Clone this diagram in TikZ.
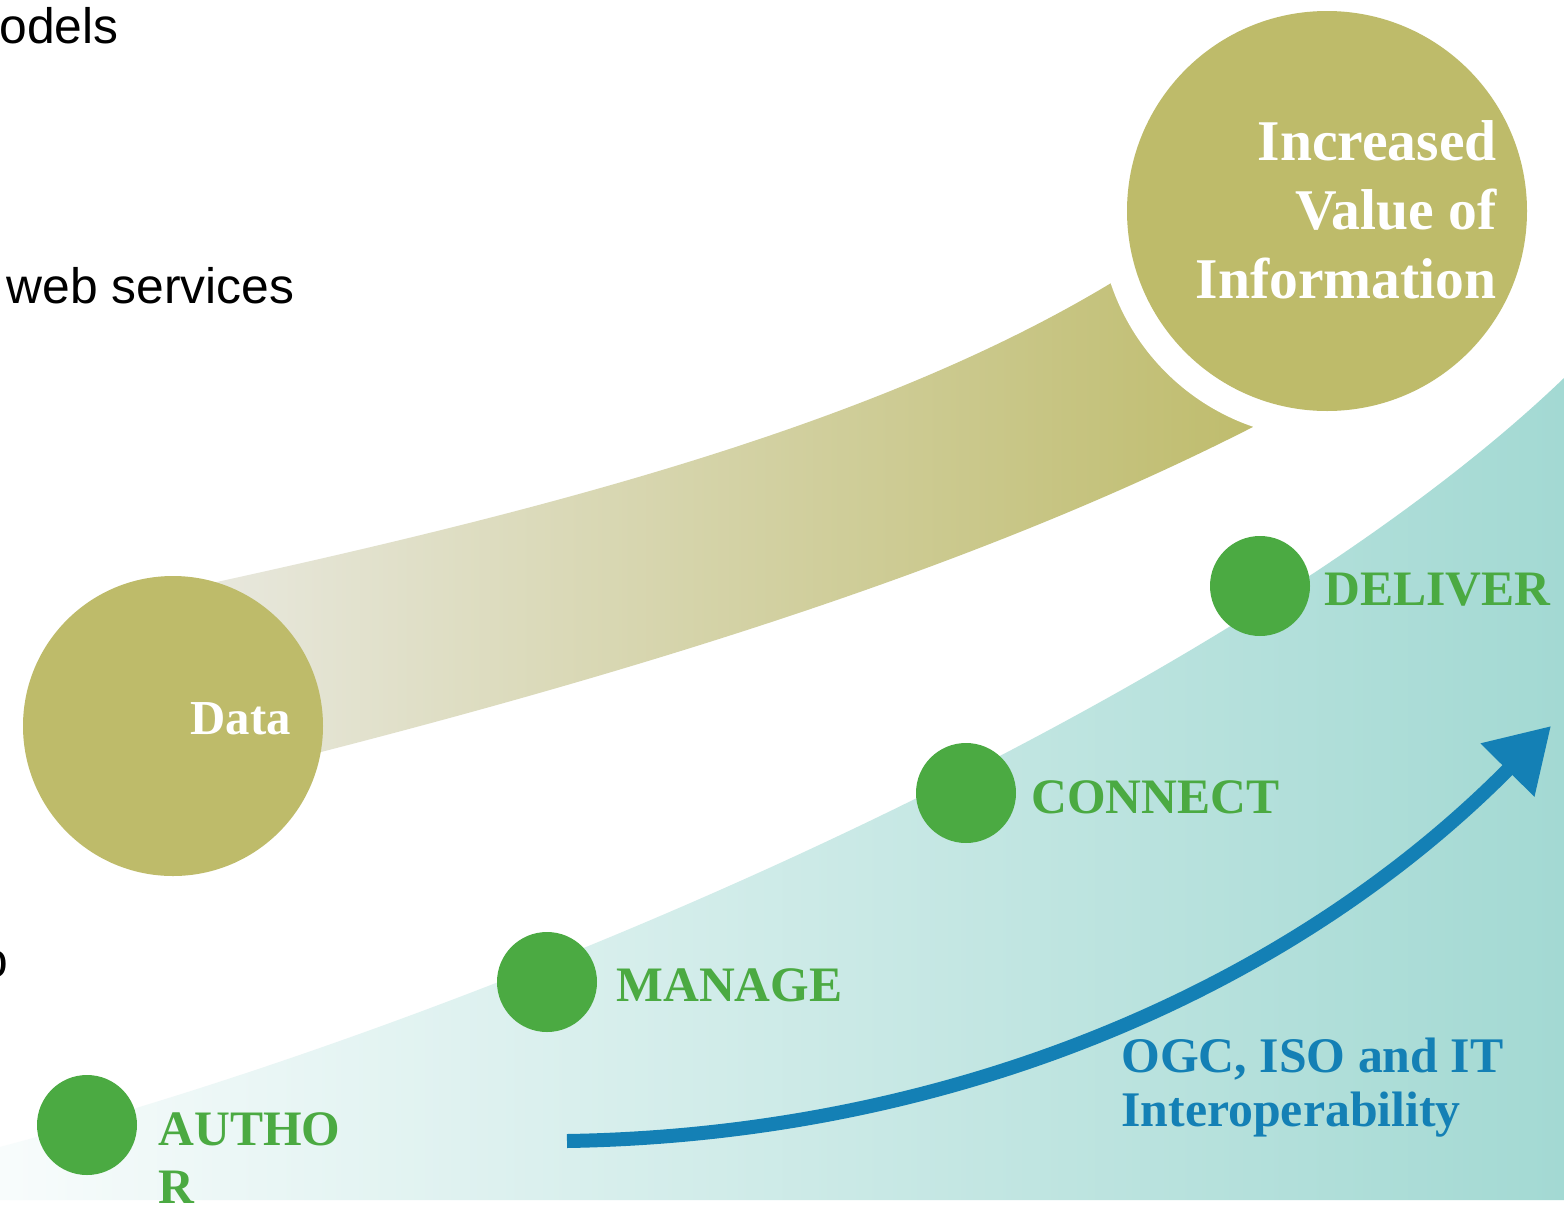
\documentclass[tikz,border=0pt]{standalone}
\usepackage{fontspec}
\setmainfont{Liberation Serif}
\newfontfamily\arialfont{Liberation Sans}
\usetikzlibrary{arrows.meta}
\definecolor{olive}{RGB}{190,187,106}
\definecolor{bandleft}{RGB}{233,233,225}
\definecolor{tealR}{RGB}{163,217,211}
\definecolor{tealL}{RGB}{248,252,252}
\definecolor{dotgreen}{RGB}{75,170,66}
\definecolor{ogcblue}{RGB}{20,128,181}
\begin{document}
\begin{tikzpicture}[x=0.5pt,y=-0.5pt,
  dot/.style={circle, fill=dotgreen, minimum size=50pt, inner sep=0pt},
  lbl/.style={font=\fontsize{24.8}{28}\selectfont\bfseries, text=dotgreen, inner sep=0pt, anchor=base west},
  inc/.style={font=\fontsize{28.8}{34}\selectfont\bfseries, text=white, inner sep=0pt, anchor=base east},
  ogc/.style={font=\fontsize{24.9}{28}\selectfont\bfseries, text=ogcblue, inner sep=0pt, anchor=base west},
  sans/.style={font=\arialfont\fontsize{24.9}{29}\selectfont, text=black, inner sep=0pt}]
\useasboundingbox (0,0) rectangle (1564,1205);
\fill[white] (0,0) rectangle (1564,1205);
% band
\shade[left color=bandleft, right color=olive]
  (180,590) .. controls (550,510) and (900,420) .. (1140,265)
  -- (1278,414) .. controls (1000,560) and (650,670) .. (250,770) -- cycle;
% white ring and big circle
\fill[white] (1327,211) circle[radius=228];
\node[circle, fill=olive, minimum size=200pt, inner sep=0pt] (big) at (1327,211) {};
\node[inc] (inc1) at (1497,160) {Increased};
\node[inc] (inc2) at (1497,229) {Value of};
\node[inc] (inc3) at (1497,298) {Information};
% data circle
\node[circle, fill=olive, minimum size=150pt, inner sep=0pt] (data) at (173,726) {};
\node[font=\fontsize{24.4}{28}\selectfont\bfseries, text=white, inner sep=0pt, anchor=base west] (datal) at (190,734) {Data};
% teal region
\shade[left color=tealL, right color=tealR]
  (0,1147) .. controls (550,1000) and (1250,680) .. (1564,378)
  -- (1564,1200) -- (0,1200) -- cycle;
% dots
\node[dot] (author) at (87,1125) {};
\node[dot] (manage) at (547,982) {};
\node[dot] (connect) at (966,793) {};
\node[dot] (deliver) at (1260,586) {};
\node[lbl] (authorl1) at (158,1145) {AUTHO};
\node[lbl] (authorl2) at (158,1203) {R};
\node[lbl] (managel) at (616,1001) {MANAGE};
\node[lbl] (connectl) at (1031,813) {CONNECT};
\node[lbl] (deliverl) at (1324,605) {DELIVER};
% arrow
\coordinate (as) at (567,1141);
\coordinate (ae) at (1551,726);
\draw[ogcblue, line width=7pt, -{Triangle[length=31pt,width=36pt]}]
  (as) .. controls (950,1135) and (1290,990) .. (ae);
\node[ogc] (ogc1) at (1121,1072) {OGC, ISO and IT};
\node[ogc] (ogc2) at (1121,1126) {Interoperability};
% cut-off sans texts
\node[sans, anchor=base west] (models) at (-1,43) {odels};
\node[sans, anchor=base west] (web) at (6,303) {web services};
\node[sans, anchor=base east] (frag) at (9,977) {o};
\end{tikzpicture}
\end{document}
